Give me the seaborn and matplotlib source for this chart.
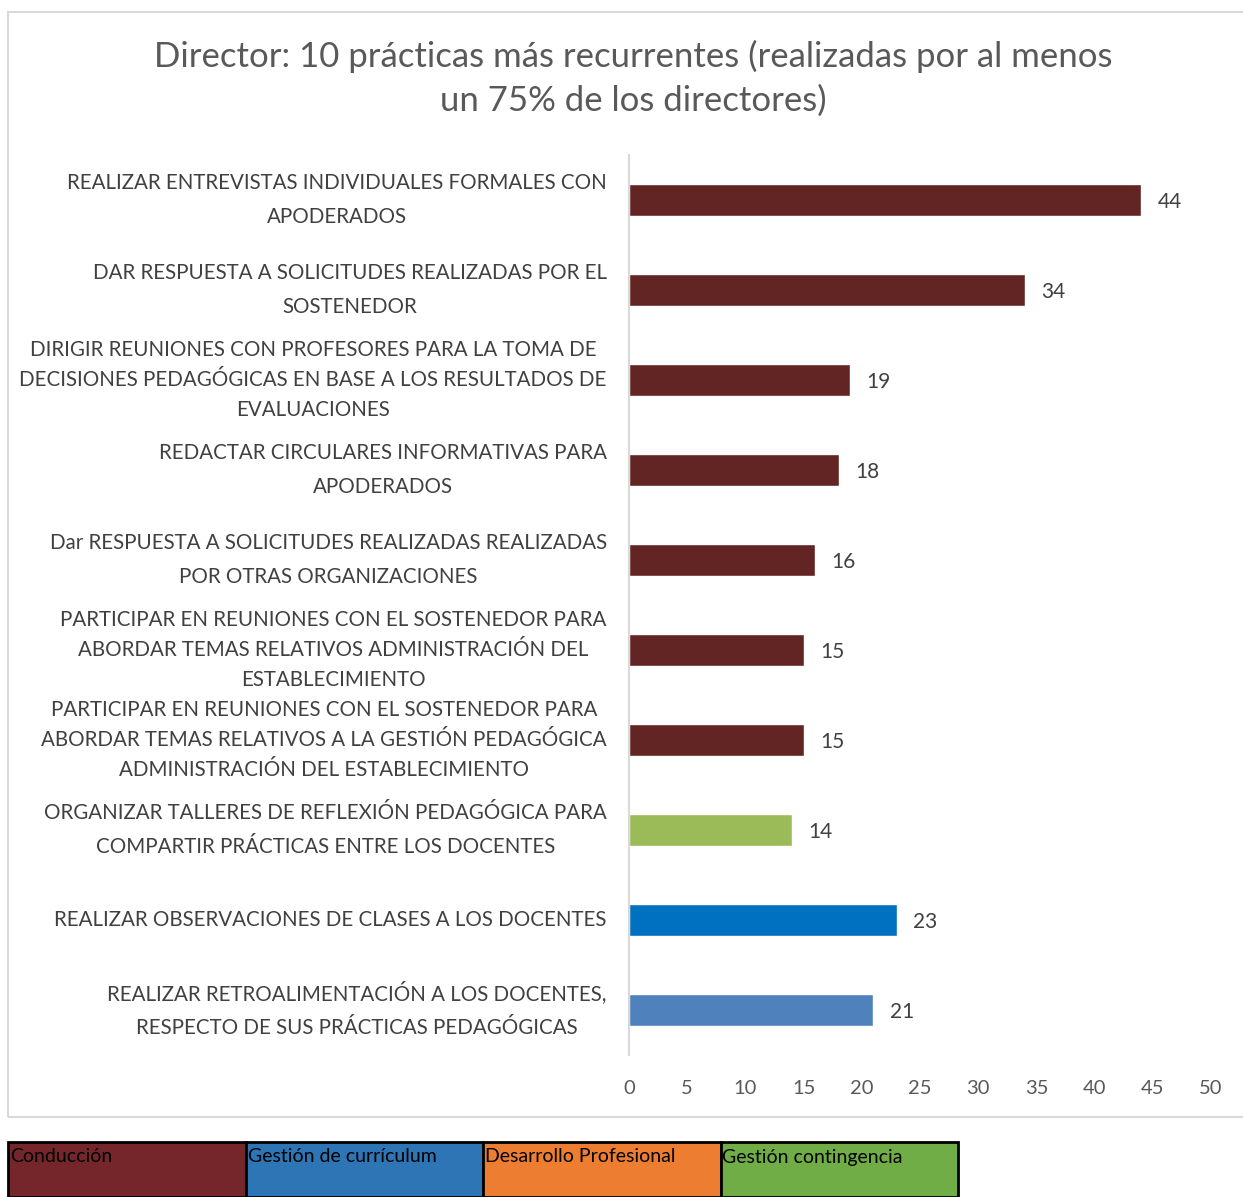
import matplotlib
matplotlib.use("Agg")
import matplotlib.pyplot as plt
import seaborn as sns
from matplotlib.patches import Rectangle

# datos
practicas = [
    "REALIZAR ENTREVISTAS INDIVIDUALES FORMALES CON\nAPODERADOS",
    "DAR RESPUESTA A SOLICITUDES REALIZADAS POR EL\nSOSTENEDOR",
    "DIRIGIR REUNIONES CON PROFESORES PARA LA TOMA DE\nDECISIONES PEDAGÓGICAS EN BASE A LOS RESULTADOS DE\nEVALUACIONES",
    "REDACTAR CIRCULARES INFORMATIVAS PARA\nAPODERADOS",
    "Dar RESPUESTA A SOLICITUDES REALIZADAS REALIZADAS\nPOR OTRAS ORGANIZACIONES",
    "PARTICIPAR EN REUNIONES CON EL SOSTENEDOR PARA\nABORDAR TEMAS RELATIVOS ADMINISTRACIÓN DEL\nESTABLECIMIENTO",
    "PARTICIPAR EN REUNIONES CON EL SOSTENEDOR PARA\nABORDAR TEMAS RELATIVOS A LA GESTIÓN PEDAGÓGICA\nADMINISTRACIÓN DEL ESTABLECIMIENTO",
    "ORGANIZAR TALLERES DE REFLEXIÓN PEDAGÓGICA PARA\nCOMPARTIR PRÁCTICAS ENTRE LOS DOCENTES",
    "REALIZAR OBSERVACIONES DE CLASES A LOS DOCENTES",
    "REALIZAR RETROALIMENTACIÓN A LOS DOCENTES,\nRESPECTO DE SUS PRÁCTICAS PEDAGÓGICAS",
]
directores = [44, 34, 19, 18, 16, 15, 15, 14, 23, 21]
colores_barras = ["#632523"] * 7 + ["#9BBB59", "#0070C0", "#4F81BD"]

areas = ["Conducción", "Gestión de currículum", "Desarrollo Profesional", "Gestión contingencia"]
colores_areas = ["#74262B", "#2E75B6", "#ED7D31", "#70AD47"]

sns.set_style("white")
plt.rcParams['font.family'] = ['Lato', 'DejaVu Sans']

fig = plt.figure(figsize=(12.43, 11.97), dpi=100)
ax = fig.add_axes([629/1243, 1 - 1055/1197, (1211 - 629)/1243, 900/1197])

paleta = dict(zip(practicas, colores_barras))
sns.barplot(x=directores, y=practicas, hue=practicas, palette=paleta,
            legend=False, width=0.355, saturation=1, ax=ax)

ax.set_xlim(0, 50)
ax.set_xticks(range(0, 51, 5))
ax.set_xlabel("")
ax.set_ylabel("")
for s in ["top", "right", "bottom"]:
    ax.spines[s].set_visible(False)
ax.spines["left"].set_color("#D9D9D9")
ax.spines["left"].set_linewidth(1.5)
ax.tick_params(axis="x", length=0, pad=18, labelsize=14.5, labelcolor="#595959")
ax.tick_params(axis="y", length=0, pad=16, labelsize=14.8, labelcolor="#404040")

# etiquetas centradas línea a línea, alineadas a la derecha
for lab in ax.get_yticklabels():
    lab.set_multialignment("center")
    lab.set_verticalalignment("center")
    n = lab.get_text().count("\n") + 1
    lab.set_linespacing(1.88 if n == 2 else 1.62)

# valores junto a las barras
for i, v in enumerate(directores):
    ax.text(v + 1.4, i + 0.02, str(v), va="center", ha="left", fontsize=15, color="#404040")

fig.text(633/1243, 1 - 78/1197,
         "Director: 10 prácticas más recurrentes (realizadas por al menos\nun 75% de los directores)",
         ha="center", va="center", fontsize=25, color="#595959", linespacing=1.45)

# marco del gráfico
fig.patches.append(Rectangle((8/1243, 1 - 1117/1197), 1.0, (1117 - 12)/1197,
                             transform=fig.transFigure, fill=False,
                             edgecolor="#D9D9D9", linewidth=1.5))

# leyenda de áreas
x0 = 8
for nombre, col in zip(areas, colores_areas):
    fig.patches.append(Rectangle((x0/1243, 0), 237.5/1243, (1197 - 1142)/1197,
                                 transform=fig.transFigure, facecolor=col,
                                 edgecolor="black", linewidth=2))
    fig.text((x0 + 2)/1243, 1 - 1157/1197, nombre, ha="left", va="center",
             fontsize=14, color="black")
    x0 += 237.5

fig.savefig("out.png", dpi=100)
